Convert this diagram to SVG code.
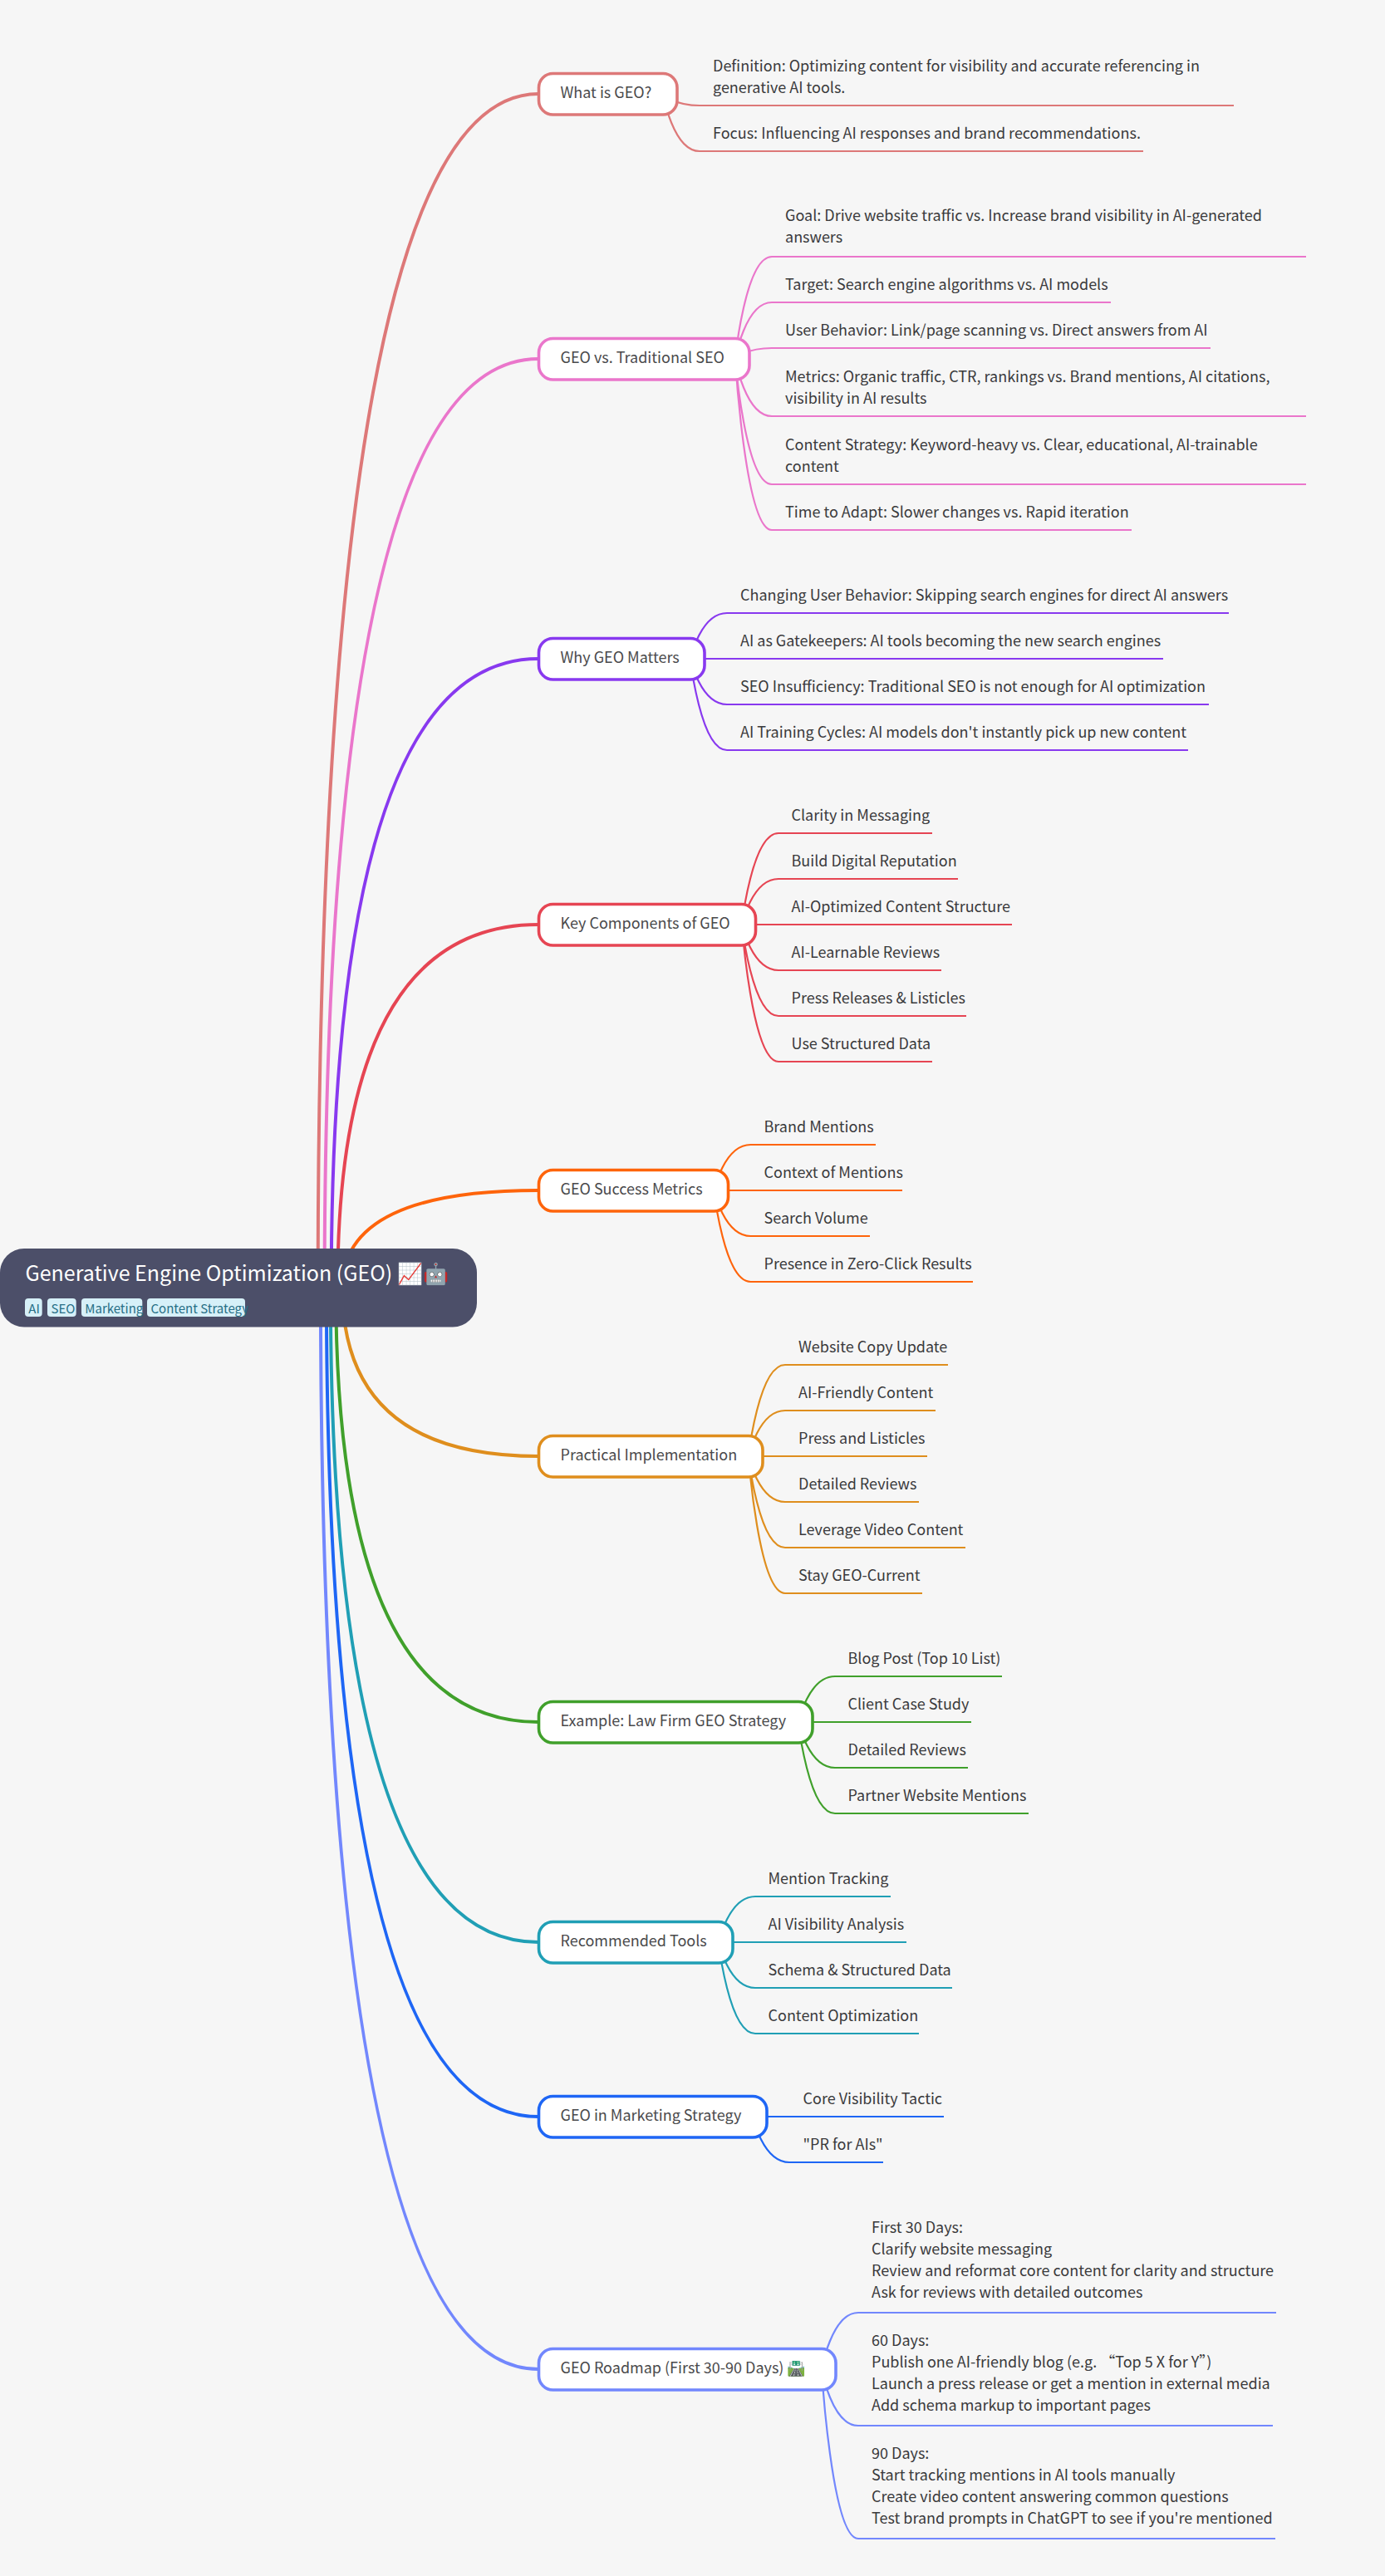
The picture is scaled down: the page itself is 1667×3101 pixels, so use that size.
<svg xmlns="http://www.w3.org/2000/svg" width="1667" height="3101" viewBox="0 0 1667 3101">
<style>
text{font-family:"Noto Sans CJK SC","Noto Sans",sans-serif;fill:#3a3a3c;font-size:18px}
.l{fill:#4a4a4c}
.n{fill:#fff;stroke-width:3.6}
path{fill:none}
.m{stroke-width:4}
.s{stroke-width:2.2}
.c0{stroke:#dd7878}.c1{stroke:#ea76cb}.c2{stroke:#8839ef}.c3{stroke:#e64553}.c4{stroke:#fe640b}.c5{stroke:#df8e1d}.c6{stroke:#40a02b}.c7{stroke:#209fb5}.c8{stroke:#1e66f5}.c9{stroke:#7287fd}
.tag{fill:#d6f0f8}
.tt{fill:#276f86;font-size:15px}
</style>
<rect width="1667" height="3101" fill="#f6f6f6"/>
<g id="connectors">
<path class="m c0" d="M382.7 1550Q382.7 113 648 113"/>
<path class="m c1" d="M390.6 1550Q390.6 432 648 432"/>
<path class="m c2" d="M398.7 1550Q398.7 793 648 793"/>
<path class="m c3" d="M406.3 1550Q406.3 1113 648 1113"/>
<path class="m c4" d="M412 1550Q412 1433 648 1433"/>
<path class="m c5" d="M412 1550Q412 1753 648 1753"/>
<path class="m c6" d="M404.2 1550Q404.2 2073 648 2073"/>
<path class="m c7" d="M397.8 1550Q397.8 2338 648 2338"/>
<path class="m c8" d="M392.9 1550Q392.9 2548 648 2548"/>
<path class="m c9" d="M385.9 1550Q385.9 2852 648 2852"/>
<path class="s c0" d="M798 113C798 113 810 127 842 127H1485M798 113C798 113 810 182 842 182H1376"/>
<path class="s c1" d="M885 432C885 432 897 309 929 309H1572M885 432C885 432 897 364 929 364H1337M885 432C885 432 897 419 929 419H1457M885 432C885 432 897 501 929 501H1572M885 432C885 432 897 583 929 583H1572M885 432C885 432 897 638 929 638H1362"/>
<path class="s c2" d="M831 793C831 793 843 738 875 738H1479M831 793C831 793 843 793 875 793H1400M831 793C831 793 843 848 875 848H1455M831 793C831 793 843 903 875 903H1430"/>
<path class="s c3" d="M893 1113C893 1113 905 1003 937 1003H1122M893 1113C893 1113 905 1058 937 1058H1153M893 1113C893 1113 905 1113 937 1113H1218M893 1113C893 1113 905 1168 937 1168H1133M893 1113C893 1113 905 1223 937 1223H1163M893 1113C893 1113 905 1278 937 1278H1122"/>
<path class="s c4" d="M859.5 1433C859.5 1433 871.5 1378 903.5 1378H1054M859.5 1433C859.5 1433 871.5 1433 903.5 1433H1086M859.5 1433C859.5 1433 871.5 1488 903.5 1488H1047M859.5 1433C859.5 1433 871.5 1543 903.5 1543H1171"/>
<path class="s c5" d="M901 1753C901 1753 913 1643 945 1643H1141M901 1753C901 1753 913 1698 945 1698H1126M901 1753C901 1753 913 1753 945 1753H1116M901 1753C901 1753 913 1808 945 1808H1106M901 1753C901 1753 913 1863 945 1863H1162M901 1753C901 1753 913 1918 945 1918H1110"/>
<path class="s c6" d="M961 2073C961 2073 973 2018 1005 2018H1206M961 2073C961 2073 973 2073 1005 2073H1169M961 2073C961 2073 973 2128 1005 2128H1165M961 2073C961 2073 973 2183 1005 2183H1238"/>
<path class="s c7" d="M865 2338C865 2338 877 2283 909 2283H1072M865 2338C865 2338 877 2338 909 2338H1091M865 2338C865 2338 877 2393 909 2393H1146M865 2338C865 2338 877 2448 909 2448H1106"/>
<path class="s c8" d="M906 2548C906 2548 918 2548 950 2548H1136M906 2548C906 2548 918 2603 950 2603H1063"/>
<path class="s c9" d="M989 2852C989 2852 1001 2784 1033 2784H1536M989 2852C989 2852 1001 2920 1033 2920H1532M989 2852C989 2852 1001 3056 1033 3056H1535"/>
</g>
<g id="root">
<rect x="0" y="1503" width="574" height="94.5" rx="29" fill="#4c4f69"/>
<text x="30.5" y="1541.5" style="font-size:25px;fill:#fff">Generative Engine Optimization (GEO) 📈🤖</text>
<rect class="tag" x="30" y="1563" width="20.7" height="22" rx="4"/><text class="tt" x="34.3" y="1581">AI</text>
<rect class="tag" x="57" y="1563" width="34.7" height="22" rx="4"/><text class="tt" x="61.5" y="1581">SEO</text>
<rect class="tag" x="98" y="1563" width="73.3" height="22" rx="4"/><text class="tt" x="102.3" y="1581">Marketing</text>
<rect class="tag" x="177" y="1563" width="118" height="22" rx="4"/><text class="tt" x="181.5" y="1581">Content Strategy</text>
</g>
<g id="n0"><rect class="n c0" x="648.5" y="88.5" width="166.5" height="49.5" rx="17"/><text class="l" x="674.5" y="118">What is GEO?</text>
<text x="858" y="85.5">Definition: Optimizing content for visibility and accurate referencing in</text><text x="858" y="111.5">generative AI tools.</text><text x="858" y="167">Focus: Influencing AI responses and brand recommendations.</text></g>
<g id="n1"><rect class="n c1" x="648.5" y="407.5" width="253.5" height="49.5" rx="17"/><text class="l" x="674.5" y="437">GEO vs. Traditional SEO</text>
<text x="945" y="266">Goal: Drive website traffic vs. Increase brand visibility in AI-generated</text><text x="945" y="292">answers</text><text x="945" y="349">Target: Search engine algorithms vs. AI models</text><text x="945" y="404">User Behavior: Link/page scanning vs. Direct answers from AI</text><text x="945" y="460">Metrics: Organic traffic, CTR, rankings vs. Brand mentions, AI citations,</text><text x="945" y="486">visibility in AI results</text><text x="945" y="542">Content Strategy: Keyword-heavy vs. Clear, educational, AI-trainable</text><text x="945" y="568">content</text><text x="945" y="623">Time to Adapt: Slower changes vs. Rapid iteration</text></g>
<g id="n2"><rect class="n c2" x="648.5" y="768.5" width="199.5" height="49.5" rx="17"/><text class="l" x="674.5" y="798">Why GEO Matters</text>
<text x="891" y="723">Changing User Behavior: Skipping search engines for direct AI answers</text><text x="891" y="778">AI as Gatekeepers: AI tools becoming the new search engines</text><text x="891" y="833">SEO Insufficiency: Traditional SEO is not enough for AI optimization</text><text x="891" y="888">AI Training Cycles: AI models don't instantly pick up new content</text></g>
<g id="n3"><rect class="n c3" x="648.5" y="1088.5" width="261" height="49.5" rx="17"/><text class="l" x="674.5" y="1118">Key Components of GEO</text>
<text x="952.5" y="988">Clarity in Messaging</text><text x="952.5" y="1043">Build Digital Reputation</text><text x="952.5" y="1098">AI-Optimized Content Structure</text><text x="952.5" y="1153">AI-Learnable Reviews</text><text x="952.5" y="1208">Press Releases &amp; Listicles</text><text x="952.5" y="1263">Use Structured Data</text></g>
<g id="n4"><rect class="n c4" x="648.5" y="1408.5" width="228" height="49.5" rx="17"/><text class="l" x="674.5" y="1438">GEO Success Metrics</text>
<text x="919.5" y="1363">Brand Mentions</text><text x="919.5" y="1418">Context of Mentions</text><text x="919.5" y="1473">Search Volume</text><text x="919.5" y="1528">Presence in Zero-Click Results</text></g>
<g id="n5"><rect class="n c5" x="648.5" y="1728.5" width="269.5" height="49.5" rx="17"/><text class="l" x="674.5" y="1758">Practical Implementation</text>
<text x="961" y="1628">Website Copy Update</text><text x="961" y="1683">AI-Friendly Content</text><text x="961" y="1738">Press and Listicles</text><text x="961" y="1793">Detailed Reviews</text><text x="961" y="1848">Leverage Video Content</text><text x="961" y="1903">Stay GEO-Current</text></g>
<g id="n6"><rect class="n c6" x="648.5" y="2048.5" width="329.5" height="49.5" rx="17"/><text class="l" x="674.5" y="2078">Example: Law Firm GEO Strategy</text>
<text x="1020.5" y="2003">Blog Post (Top 10 List)</text><text x="1020.5" y="2058">Client Case Study</text><text x="1020.5" y="2113">Detailed Reviews</text><text x="1020.5" y="2168">Partner Website Mentions</text></g>
<g id="n7"><rect class="n c7" x="648.5" y="2313.5" width="233.5" height="49.5" rx="17"/><text class="l" x="674.5" y="2343">Recommended Tools</text>
<text x="924.5" y="2268">Mention Tracking</text><text x="924.5" y="2323">AI Visibility Analysis</text><text x="924.5" y="2378">Schema &amp; Structured Data</text><text x="924.5" y="2433">Content Optimization</text></g>
<g id="n8"><rect class="n c8" x="648.5" y="2523.5" width="274.5" height="49.5" rx="17"/><text class="l" x="674.5" y="2553">GEO in Marketing Strategy</text>
<text x="966.5" y="2533">Core Visibility Tactic</text><text x="966.5" y="2588">"PR for AIs"</text></g>
<g id="n9"><rect class="n c9" x="648.5" y="2827.5" width="357.5" height="49.5" rx="17"/><text class="l" x="674.5" y="2857">GEO Roadmap (First 30-90 Days) 🛣️</text>
<text x="1049" y="2688">First 30 Days:</text><text x="1049" y="2714">Clarify website messaging</text><text x="1049" y="2740">Review and reformat core content for clarity and structure</text><text x="1049" y="2766">Ask for reviews with detailed outcomes</text>
<text x="1049" y="2824">60 Days:</text><text x="1049" y="2850">Publish one AI-friendly blog (e.g.   “Top 5 X for Y”)</text><text x="1049" y="2876">Launch a press release or get a mention in external media</text><text x="1049" y="2902">Add schema markup to important pages</text>
<text x="1049" y="2960">90 Days:</text><text x="1049" y="2986">Start tracking mentions in AI tools manually</text><text x="1049" y="3012">Create video content answering common questions</text><text x="1049" y="3038">Test brand prompts in ChatGPT to see if you're mentioned</text></g>
</svg>
